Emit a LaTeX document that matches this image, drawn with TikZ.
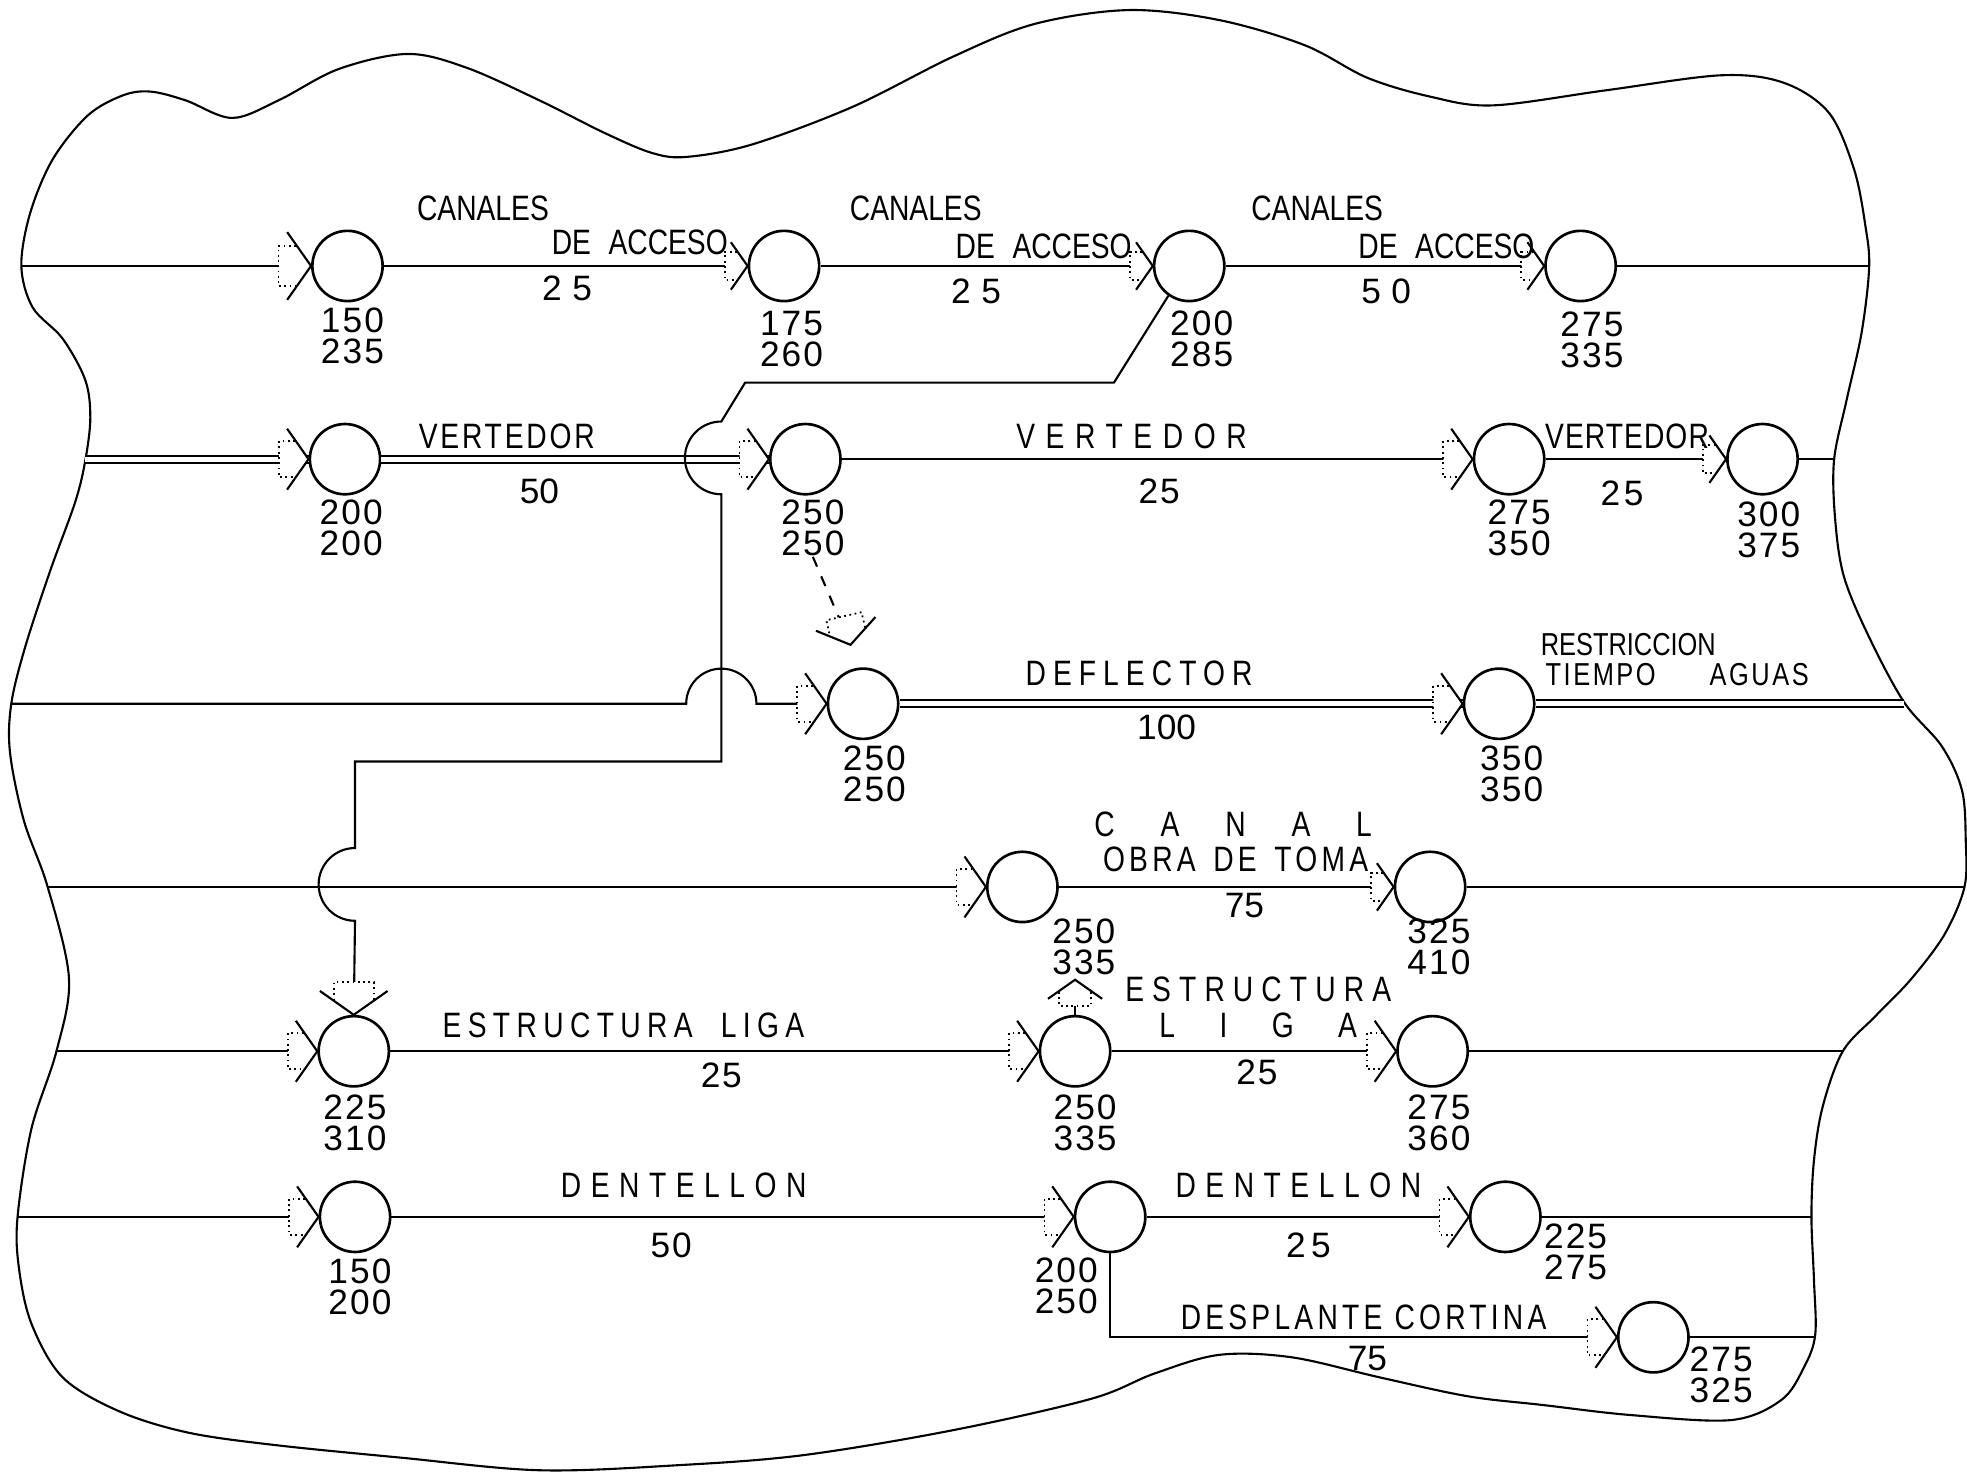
\documentclass[tikz,border=0pt]{standalone}
\usepackage{fontspec}
\newfontfamily\rotulo{Liberation Sans}[FakeStretch=0.8]
\newfontfamily\cifras{Liberation Sans}
\tikzset{
  evento/.style={circle,draw,line width=0.75pt,minimum size=0.7cm,inner sep=0pt},
  liga/.style={line width=0.6pt},
  doble/.style={double,double distance=1.5pt,line width=0.5pt},
  contorno/.style={line width=0.6pt},
  cifra/.style={font=\cifras\fontsize{10}{8.8}\selectfont\addfontfeature{LetterSpace=6},
    align=center,inner sep=0pt},
  letrero/.style={font=\rotulo\fontsize{10}{12}\selectfont\addfontfeature{LetterSpace=#1},
    inner sep=0pt},
  letrero/.default=0,
  duracion/.style={font=\cifras\fontsize{10}{12}\selectfont\addfontfeature{LetterSpace=#1},
    inner sep=0pt},
  duracion/.default=0
}
% event circle with its two times below
\newcommand{\evento}[7]{%
  \node[evento] (#1) at (#2,#3) {};
  \node[cifra] (#1n) at (#4,#5) {#6\\#7};%
}
% open stencil arrowhead, tip at #2
\newcommand{\entrada}[3][1]{%
  \begin{scope}[shift={(#2)},rotate=#3,scale=#1]
    \fill[white] (-26,-16) -- (-12,-16) -- (0,0) -- (-12,16) -- (-26,16) -- cycle;
    \draw[liga] (-19,-27) -- (0,0) -- (-19,27);
    \draw[densely dotted,line width=0.5pt]
      (-12,-16) -- (-26,-16) -- (-26,16) -- (-12,16);
  \end{scope}%
}

\begin{document}
\begin{tikzpicture}[x=0.0125cm,y=-0.0125cm]
  \useasboundingbox (0,0) rectangle (1568,1178);

  % outline of the work site
  \draw[contorno] plot[smooth cycle,tension=0.55] coordinates {
    (17,212) (24,170) (42,127) (70,92) (98,76) (120,73) (148,80) (185,94)
    (222,80) (270,55) (325,43) (372,54) (430,80) (482,106) (520,122)
    (548,125) (600,115) (680,85) (760,45) (825,19) (900,8) (972,16)
    (1040,36) (1090,62) (1140,77) (1190,84) (1280,72) (1372,60) (1422,66)
    (1458,90) (1478,135) (1487,180) (1490,213) (1484,265) (1472,319)
    (1462,367) (1463,415) (1470,460) (1490,508) (1518,560) (1548,595)
    (1564,630) (1567,670) (1566,707) (1550,745) (1523,781) (1495,810)
    (1469,838) (1453,882) (1446,925) (1444,970) (1446,1020) (1447,1064)
    (1438,1090) (1420,1116) (1380,1132) (1300,1128) (1230,1120)
    (1170,1113) (1100,1098) (1030,1082) (972,1080) (920,1095) (870,1115)
    (760,1140) (640,1160) (540,1168) (430,1172) (320,1162) (220,1152)
    (150,1142) (95,1125) (50,1098) (25,1055) (15,1010) (14,970) (25,900)
    (45,838) (55,780) (38,707) (19,654) (8,600) (9,561) (20,516) (40,455)
    (60,400) (68,367) (72,333) (68,303) (50,270) (26,245)};

  % events
  \evento{A1}{277}{212}{281}{268}{150}{235}
  \evento{A2}{625}{212}{631}{270}{175}{260}
  \evento{A3}{948}{212}{958}{270}{200}{285}
  \evento{A4}{1260}{212}{1269}{271}{275}{335}
  \evento{B1}{275}{366}{280}{421}{200}{200}
  \evento{B2}{642}{366}{648}{421}{250}{250}
  \evento{B3}{1203}{366}{1211}{421}{275}{350}
  \evento{B4}{1405}{366}{1410}{422}{300}{375}
  \evento{C1}{688}{561}{697}{617}{250}{250}
  \evento{C2}{1195}{561}{1205}{617}{350}{350}
  \evento{D1}{815}{707}{864}{755}{250}{335}
  \evento{D2}{1140}{707}{1147}{755}{325}{410}
  \evento{E1}{282}{838}{283}{895}{225}{310}
  \evento{E2}{857}{838}{865}{895}{250}{335}
  \evento{E3}{1142}{838}{1147}{895}{275}{360}
  \evento{F1}{283}{970}{287}{1026}{150}{200}
  \evento{F2}{885}{970}{850}{1025}{200}{250}
  \evento{F3}{1200}{970}{1256}{998}{225}{275}
  \evento{G1}{1318}{1066}{1372}{1096}{275}{325}

  % free ends on the outline
  \coordinate (a0) at (17,212);   \coordinate (a9) at (1490,212);
  \coordinate (b0) at (68,366);   \coordinate (b9) at (1462,366);
  \coordinate (c0) at (9,561);    \coordinate (c9) at (1518,561);
  \coordinate (d0) at (38,707);   \coordinate (d9) at (1566,707);
  \coordinate (e0) at (45,838);   \coordinate (e9) at (1469,838);
  \coordinate (f0) at (14,970);   \coordinate (f9) at (1444,970);
  \coordinate (g9) at (1447,1066);
  \coordinate (ficticia) at (678,514);
  \coordinate (arriba) at (857,781);

  % activities
  \draw[liga] (a0) -- (A1) -- (A2) -- (A3) -- (A4) -- (a9);
  \draw[doble] (b0) -- (B1) -- (B2);
  \draw[liga] (B2) -- (B3) -- (B4) -- (b9);
  \draw[liga] (c0) -- (547,561) arc[start angle=180,end angle=360,radius=28] -- (C1);
  \draw[doble] (C1) -- (C2) -- (c9);
  \draw[liga] (d0) -- (D1) -- (D2) -- (d9);
  \draw[liga] (e0) -- (E1) -- (E2) -- (E3) -- (e9);
  \draw[liga] (f0) -- (F1) -- (F2) -- (F3) -- (f9);
  \draw[liga] (F2) |- (G1);
  \draw[liga] (G1) -- (g9);
  \draw[liga] (A3.235) -- (888,305) -- (594,305) -- (575,336)
    arc[start angle=270,end angle=90,radius=29] -- (575,607) -- (283,607)
    -- (283,676) arc[start angle=270,end angle=90,radius=29] -- (E1.north);
  \draw[liga,dashed] (B2n.south) -- (ficticia);
  \draw[liga] (E2.north) -- (arriba);

  % arrowheads
  \entrada{A1.west}{0}
  \foreach \n in {A2,A3,A4,B4,D2}
    \entrada[0.7]{\n.west}{0};
  \foreach \n in {B1,B2,B3,C1,C2,D1,E1,E2,E3,F1,F2,F3,G1}
    \entrada[0.9]{\n.west}{0};
  \entrada{E1.north}{-90}
  \entrada[0.8]{arriba}{90}
  \entrada[0.9]{ficticia}{-77}

  % activity names and durations
  \node[letrero] (t1) at (385,166) {CANALES};
  \node[letrero] (t2) at (510,193) {DE\hspace{0.5em}ACCESO};
  \node[duracion=30] (t3) at (452,230) {25};
  \node[letrero] (t4) at (730,166) {CANALES};
  \node[letrero] (t5) at (832,196) {DE\hspace{0.5em}ACCESO};
  \node[duracion=30] (t6) at (778,232) {25};
  \node[letrero] (t7) at (1050,166) {CANALES};
  \node[letrero] (t8) at (1153,196) {DE\hspace{0.5em}ACCESO};
  \node[duracion=30] (t9) at (1105,232) {50};
  \node[letrero=8] (u1) at (404,348) {VERTEDOR};
  \node[duracion] (u2) at (430,392) {50};
  \node[letrero=30] (u3) at (902,348) {VERTEDOR};
  \node[duracion=5] (u4) at (924,392) {25};
  \node[letrero=3] (u5) at (1297,348) {VERTEDOR};
  \node[duracion=10] (u6) at (1293,393) {25};
  \node[letrero=20] (v1) at (908,537) {DEFLECTOR};
  \node[duracion] (v2) at (930,580) {100};
  \node[letrero,font=\rotulo\fontsize{9}{10}\selectfont] (v3) at (1298,514) {RESTRICCION};
  \node[letrero,font=\rotulo\fontsize{9}{10}\selectfont\addfontfeature{LetterSpace=8}]
    (v4) at (1337,538) {TIEMPO\hspace{1.7em}AGUAS};
  \node[letrero=130] (w1) at (983,657) {CANAL};
  \node[letrero=12] (w2) at (985,685) {OBRA\hspace{0.5em}DE\hspace{0.5em}TOMA};
  \node[duracion] (w3) at (992,722) {75};
  \node[letrero=18] (x1) at (497,817) {ESTRUCTURA\hspace{0.8em}LIGA};
  \node[duracion=5] (x2) at (575,857) {25};
  \node[letrero=23] (x3) at (1003,789) {ESTRUCTURA};
  \node[letrero=126] (x4) at (1003,817) {LIGA};
  \node[duracion=5] (x5) at (1002,855) {25};
  \node[letrero=27] (y1) at (545,945) {DENTELLON};
  \node[duracion=5] (y2) at (535,993) {50};
  \node[letrero=27] (y3) at (1035,945) {DENTELLON};
  \node[duracion=15] (y4) at (1043,993) {25};
  \node[letrero=12] (z1) at (1087,1050) {DESPLANTE CORTINA};
  \node[duracion] (z2) at (1090,1083) {75};
\end{tikzpicture}
\end{document}
